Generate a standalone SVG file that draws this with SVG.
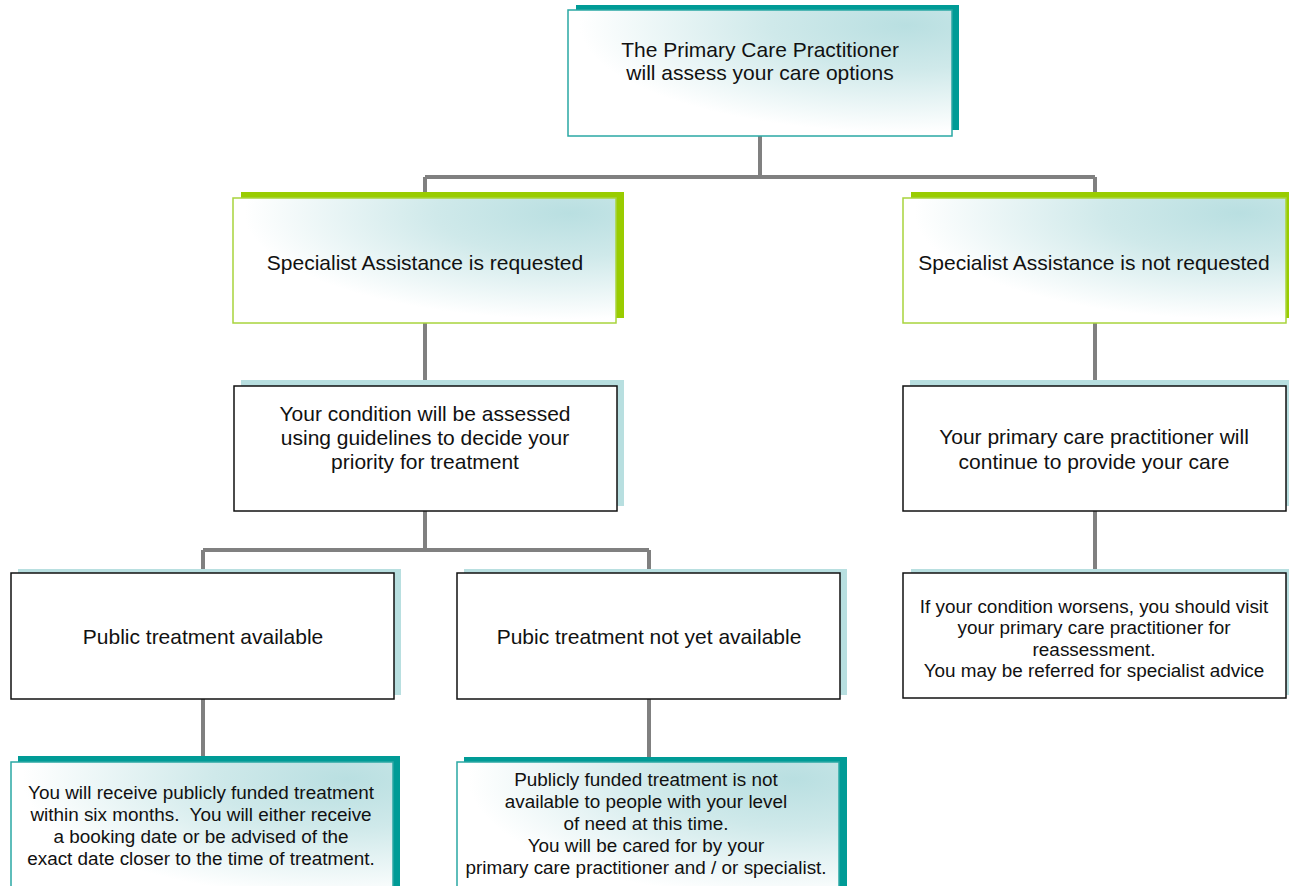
<svg xmlns="http://www.w3.org/2000/svg" width="1289" height="886" viewBox="0 0 1289 886">
<defs>
<radialGradient id="g" cx="0.88" cy="0.12" r="1" fx="0.88" fy="0.12">
<stop offset="0" stop-color="#b9dfe1"/>
<stop offset="0.35" stop-color="#cfe9ea"/>
<stop offset="0.85" stop-color="#ffffff"/>
</radialGradient>
</defs>
<style>
text{font-family:"Liberation Sans",Arial,Helvetica,sans-serif;fill:#111;text-anchor:middle}
.big{font-size:21px}
.sm{font-size:18.9px}
.conn{stroke:#808080;stroke-width:4;fill:none}
.shT{fill:#009b96}
.shG{fill:#99cc00}
.shB{fill:#b8dfe0}
.bT{fill:url(#g);stroke:#2aa8a4;stroke-width:1.5}
.bG{fill:url(#g);stroke:#a8d43c;stroke-width:1.5}
.bK{fill:#fff;stroke:#111;stroke-width:1.5}
</style>
<rect width="1289" height="886" fill="#fff"/>
<g id="connectors">
<path class="conn" d="M760 136V177M425 177H1095M425 177V198M1095 177V198"/>
<path class="conn" d="M425 323V386M1095 323V386"/>
<path class="conn" d="M425 511V550M203 550H649M203 550V573M649 550V573"/>
<path class="conn" d="M1095 511V573"/>
<path class="conn" d="M203 699V762M649 699V762"/>
</g>
<g id="n1">
<rect class="shT" x="576" y="5" width="383" height="125"/>
<rect class="bT" x="568" y="10" width="384" height="126"/>
<text class="big" x="760" y="57">The Primary Care Practitioner</text>
<text class="big" x="760" y="80">will assess your care options</text>
</g>
<g id="n2">
<rect class="shG" x="241" y="192" width="383" height="126"/>
<rect class="bG" x="233" y="198" width="383" height="125"/>
<text class="big" x="425" y="270">Specialist Assistance is requested</text>
</g>
<g id="n3">
<rect class="shG" x="911" y="192" width="383" height="126"/>
<rect class="bG" x="903" y="198" width="383" height="125"/>
<text class="big" x="1094" y="270">Specialist Assistance is not requested</text>
</g>
<g id="n4">
<rect class="shB" x="241" y="380" width="383" height="126"/>
<rect class="bK" x="234" y="386" width="383" height="125"/>
<text class="big" x="425" y="421">Your condition will be assessed</text>
<text class="big" x="425" y="445">using guidelines to decide your</text>
<text class="big" x="425" y="469">priority for treatment</text>
</g>
<g id="n5">
<rect class="shB" x="910" y="380" width="383" height="126"/>
<rect class="bK" x="903" y="386" width="383" height="125"/>
<text class="big" x="1094" y="444">Your primary care practitioner will</text>
<text class="big" x="1094" y="469">continue to provide your care</text>
</g>
<g id="n6">
<rect class="shB" x="18" y="569" width="383" height="126"/>
<rect class="bK" x="11" y="573" width="383" height="126"/>
<text class="big" x="203" y="644">Public treatment available</text>
</g>
<g id="n7">
<rect class="shB" x="464" y="569" width="383" height="126"/>
<rect class="bK" x="457" y="573" width="383" height="126"/>
<text class="big" x="649" y="644">Pubic treatment not yet available</text>
</g>
<g id="n8">
<rect class="shB" x="911" y="569" width="383" height="126"/>
<rect class="bK" x="903" y="573" width="383" height="125"/>
<text class="sm" x="1094" y="613">If your condition worsens, you should visit</text>
<text class="sm" x="1094" y="634">your primary care practitioner for</text>
<text class="sm" x="1094" y="656">reassessment.</text>
<text class="sm" x="1094" y="677">You may be referred for specialist advice</text>
</g>
<g id="n9">
<rect class="shT" x="18" y="756" width="382" height="140"/>
<rect class="bT" x="11" y="762" width="382" height="140"/>
<text class="sm" x="201" y="799">You will receive publicly funded treatment</text>
<text class="sm" x="201" y="821">within six months.&#160; You will either receive</text>
<text class="sm" x="201" y="843">a booking date or be advised of the</text>
<text class="sm" x="201" y="865">exact date closer to the time of treatment.</text>
</g>
<g id="n10">
<rect class="shT" x="464" y="757" width="383" height="140"/>
<rect class="bT" x="457" y="762" width="382" height="140"/>
<text class="sm" x="646" y="786">Publicly funded treatment is not</text>
<text class="sm" x="646" y="808">available to people with your level</text>
<text class="sm" x="646" y="830">of need at this time.</text>
<text class="sm" x="646" y="852">You will be cared for by your</text>
<text class="sm" x="646" y="874">primary care practitioner and / or specialist.</text>
</g>
</svg>
